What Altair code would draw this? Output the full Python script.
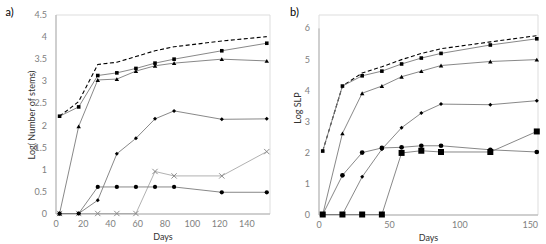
import altair as alt
import pandas as pd

DAYS = [3, 17, 31, 45, 59, 73, 87, 122, 155]

# Panel a) Log(Number of stems)
A_TOTAL = [2.2, 2.53, 3.37, 3.42, 3.55, 3.68, 3.77, 3.9, 4.0]
A_SQ = [2.2, 2.41, 3.12, 3.18, 3.28, 3.4, 3.49, 3.68, 3.85]
A_TRI = [0, 1.97, 3.02, 3.04, 3.22, 3.34, 3.4, 3.49, 3.45]
A_DIA = [0, 0, 0.3, 1.35, 1.7, 2.14, 2.32, 2.13, 2.14]
A_CIR = [0, 0, 0.6, 0.6, 0.6, 0.6, 0.6, 0.48, 0.48]
A_X = [0, 0, 0, 0, 0, 0.95, 0.85, 0.85, 1.4]

# Panel b) Log SLP
B_TOTAL = [2.04, 4.13, 4.55, 4.75, 4.98, 5.18, 5.33, 5.55, 5.75]
B_SQ = [2.04, 4.13, 4.46, 4.61, 4.84, 5.03, 5.18, 5.45, 5.65]
B_TRI = [0, 2.61, 3.9, 4.13, 4.43, 4.61, 4.79, 4.92, 4.98]
B_DIA = [0, 0, 1.21, 2.1, 2.79, 3.26, 3.55, 3.53, 3.66]
B_CIR = [0, 1.26, 1.99, 2.14, 2.16, 2.21, 2.21, 2.08, 2.01]
B_BIGSQ = [0, 0, 0, 0, 1.98, 2.05, 2.01, 2.01, 2.67]

A_TICKS_X = [0, 20, 40, 60, 80, 100, 120, 140]
A_TICKS_Y = [0, 0.5, 1, 1.5, 2, 2.5, 3, 3.5, 4, 4.5]
B_TICKS_X = [0, 50, 100, 150]
B_TICKS_Y = [0, 1, 2, 3, 4, 5, 6]

FONT = "Lato"
LINE_GRAY = "#7a7a7a"
CROSS_PATH = "M-1,-1L1,1M-1,1L1,-1"


def long_df(series):
    rows = []
    for name, vals in series.items():
        for d, v in zip(DAYS, vals):
            rows.append({"day": d, "value": v, "series": name})
    return pd.DataFrame(rows)


def panel(series, markers, xdom, ydom, yrange, xticks, yticks, ytitle, ytitle_x,
          ytitle_y, label, label_x, label_y, w, h):
    df = long_df(series)
    x = alt.X("day:Q", scale=alt.Scale(domain=xdom, nice=False, zero=False),
              axis=alt.Axis(values=xticks, title="Days", grid=False, ticks=False,
                            tickSize=0, domainColor="#b0b0b0", domainWidth=1,
                            labelColor="#808080", labelFont=FONT, labelFontSize=9,
                            labelPadding=6, titleFont=FONT, titleFontSize=9,
                            titleFontWeight="normal", titleColor="#333333",
                            titlePadding=4, labelFlush=False))
    y = alt.Y("value:Q", scale=alt.Scale(domain=ydom, nice=False, range=yrange),
              axis=alt.Axis(values=yticks, format=".1~f", title=ytitle, grid=False,
                            ticks=False, tickSize=0, domainColor="#b0b0b0",
                            domainWidth=1, labelColor="#808080", labelFont=FONT,
                            labelFontSize=9, labelPadding=9, titleFont=FONT,
                            titleFontSize=9, titleFontWeight="normal",
                            titleColor="#333333", titleX=ytitle_x, titleY=ytitle_y,
                            titleBaseline="middle", titleAlign="center"))
    base = alt.Chart(df).encode(x=x, y=y)
    layers = []
    for name in series:
        sub = base.transform_filter(alt.datum.series == name)
        if name == "total":
            layers.append(sub.mark_line(stroke="black", strokeWidth=1.1,
                                        strokeDash=[4, 2.5]))
        elif name == "x":
            layers.append(sub.mark_line(stroke="#a8a8a8", strokeWidth=0.9))
        else:
            layers.append(sub.mark_line(stroke=LINE_GRAY, strokeWidth=0.9))
    for name, (shape, size) in markers.items():
        sub = base.transform_filter(alt.datum.series == name)
        if shape == "xcross":
            layers.append(sub.mark_point(shape=CROSS_PATH, filled=False, stroke="#808080",
                                         strokeWidth=0.9, size=size, opacity=1))
        else:
            layers.append(sub.mark_point(shape=shape, filled=True, color="black",
                                         size=size, opacity=1))
    lab = alt.Chart(pd.DataFrame({"t": [label]})).mark_text(
        font=FONT, fontSize=11, color="black", align="center", baseline="middle"
    ).encode(text="t:N", x=alt.value(label_x), y=alt.value(label_y))
    layers.append(lab)
    return alt.layer(*layers).properties(width=w, height=h)


chart_a = panel(
    {"total": A_TOTAL, "x": A_X, "cir": A_CIR, "dia": A_DIA, "tri": A_TRI, "sq": A_SQ},
    {"x": ("xcross", 28), "cir": ("circle", 18), "dia": ("diamond", 16),
     "tri": ("triangle-up", 20), "sq": ("square", 13)},
    [0, 157], [0, 4.5], [199, 0], A_TICKS_X, A_TICKS_Y, "Log( Number of stems)", -24,
    100, "a)", -46, -1.5, 214, 199,
)

chart_b = panel(
    {"total": B_TOTAL, "bigsq": B_BIGSQ, "cir": B_CIR, "dia": B_DIA, "tri": B_TRI, "sq": B_SQ},
    {"bigsq": ("square", 36), "cir": ("circle", 22), "dia": ("diamond", 16),
     "tri": ("triangle-up", 20), "sq": ("square", 13)},
    [0, 155.5], [0, 6], [200, 13.4], B_TICKS_X, B_TICKS_Y, "Log SLP", -21,
    93, "b)", -24, -1.6, 219, 200,
)

chart = alt.concat(chart_a, chart_b, columns=2, spacing=17, align="none",
                   center=False).properties(
    padding={"left": 4.5, "top": 5.5, "right": 0, "bottom": 0}
).configure_view(stroke=None).configure(background="white")

chart.save("out.html", embed_options={"renderer": "svg", "actions": False})
